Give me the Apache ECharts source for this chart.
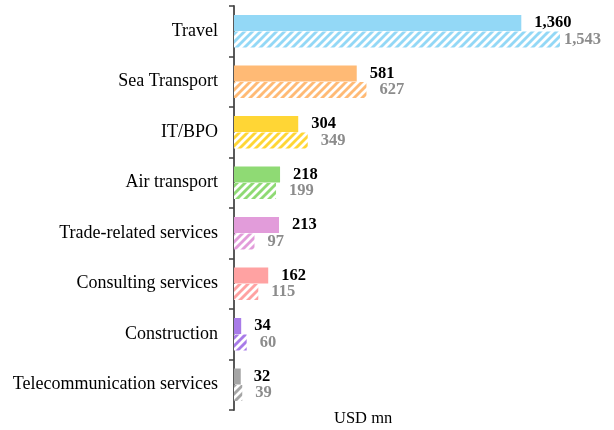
<!DOCTYPE html>
<html>
<head>
<meta charset="utf-8">
<script src="https://cdn.jsdelivr.net/npm/echarts@6/dist/echarts.min.js"></script>
<style>
  html, body { margin: 0; padding: 0; background: #fff; }
  #chart { width: 614px; height: 430px; }
</style>
</head>
<body>
<div id="chart"></div>
<script>
// Service export categories (top to bottom)
const categories = [
  'Travel', 'Sea Transport', 'IT/BPO', 'Air transport',
  'Trade-related services', 'Consulting services', 'Construction',
  'Telecommunication services'
];
// Solid bars (current period), USD mn
const currentValues = [1360, 581, 304, 218, 213, 162, 34, 32];
// Hatched bars (comparison period), USD mn
const previousValues = [1543, 627, 349, 199, 97, 115, 60, 39];
// One colour per category
const colors = ['#93D8F6', '#FFBA75', '#FFD635', '#8FDA74', '#E29CDA', '#FFA2A2', '#A87BE8', '#A5A5A5'];

const FONT = '"Liberation Serif", "Times New Roman", serif';

// Diagonal white stripes over the category colour
function makeHatch(color) {
  const s = 8;
  const c = document.createElement('canvas');
  c.width = s; c.height = s;
  const g = c.getContext('2d');
  g.fillStyle = color;
  g.fillRect(0, 0, s, s);
  g.strokeStyle = '#ffffff';
  g.lineWidth = 2.8;
  g.beginPath();
  g.moveTo(-2, s + 2); g.lineTo(s + 2, -2);
  g.moveTo(-2, 2); g.lineTo(2, -2);
  g.moveTo(s - 2, s + 2); g.lineTo(s + 2, s - 2);
  g.stroke();
  return { image: c, repeat: 'repeat' };
}

const fmt = p => Number(p.value).toLocaleString('en-US');

const chart = echarts.init(document.getElementById('chart'), null, { renderer: 'canvas' });
chart.setOption({
  animation: false,
  grid: { left: 234, top: 6, width: 338, height: 404, containLabel: false },
  xAxis: { type: 'value', min: 0, max: 1600, show: false },
  yAxis: {
    type: 'category',
    data: categories,
    inverse: true,
    axisLine: { show: true, lineStyle: { color: '#595959', width: 2 } },
    axisTick: { show: true, length: 5, lineStyle: { color: '#404040', width: 1.5 } },
    axisLabel: { color: '#000', fontSize: 18, fontFamily: FONT, margin: 16 },
    splitLine: { show: false }
  },
  series: [
    {
      type: 'bar',
      barWidth: 16,
      barGap: '3%',
      data: currentValues.map((v, i) => ({ value: v, itemStyle: { color: colors[i] } })),
      label: {
        show: true, position: 'right', distance: 13, formatter: fmt,
        color: '#000', fontWeight: 'bold', fontSize: 16.5, fontFamily: FONT
      }
    },
    {
      type: 'bar',
      barWidth: 16,
      data: previousValues.map((v, i) => {
        const d = { value: v, itemStyle: { color: makeHatch(colors[i]) } };
        if (i === 0) d.label = { distance: 4 };
        return d;
      }),
      label: {
        show: true, position: 'right', distance: 13, formatter: fmt,
        color: '#8C8C8C', fontWeight: 'bold', fontSize: 16.5, fontFamily: FONT
      }
    }
  ],
  graphic: [{
    type: 'text', left: 334, top: 410,
    style: { text: 'USD mn', fill: '#000', font: '16.5px ' + FONT }
  }]
});
</script>
</body>
</html>
